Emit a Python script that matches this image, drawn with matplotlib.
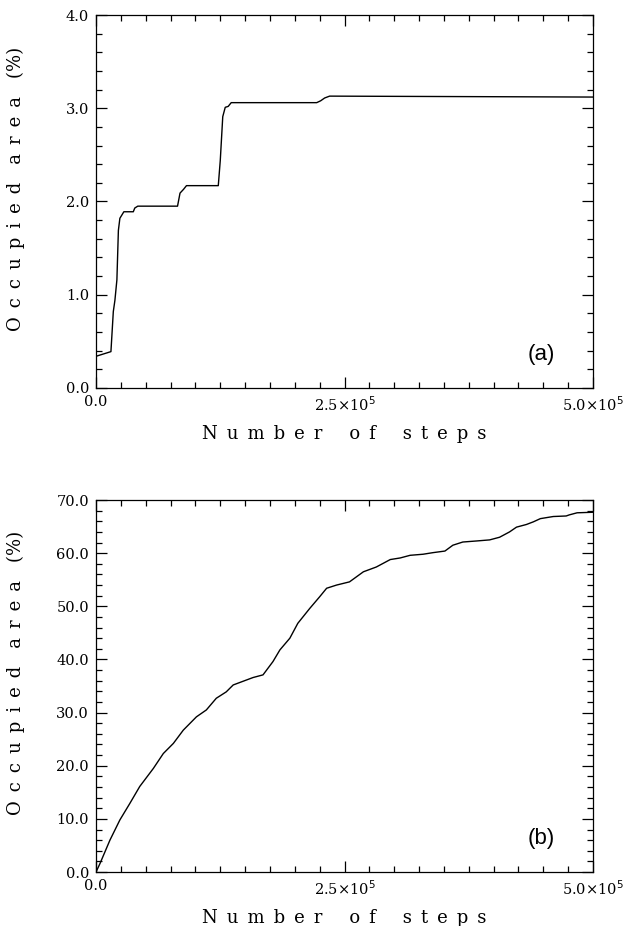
import matplotlib
matplotlib.use("Agg")
import matplotlib.pyplot as plt
from matplotlib.ticker import MultipleLocator, FixedLocator, FuncFormatter

# Panel (a): occupied area over the whole run, step-like growth
steps_a = [0, 15e3, 17.4e3, 19e3, 21e3, 22.5e3, 24e3, 28e3, 37.5e3, 39e3, 42e3,
           82e3, 84.5e3, 88e3, 91e3, 123e3, 125e3, 127.5e3, 130e3, 133e3, 136e3,
           222e3, 226e3, 230e3, 235e3, 500e3]
area_a = [0.34, 0.39, 0.82, 0.94, 1.16, 1.69, 1.82, 1.89, 1.89, 1.93, 1.95,
          1.95, 2.09, 2.13, 2.17, 2.17, 2.44, 2.91, 3.01, 3.02, 3.06,
          3.06, 3.08, 3.11, 3.13, 3.12]

# Panel (b): occupied area, smooth growth
steps_b = [0, 4e3, 14e3, 24e3, 34e3, 44e3, 57.7e3, 67.7e3, 77.8e3, 87.8e3, 101e3,
           111e3, 121e3, 131e3, 138e3, 148e3, 158e3, 168e3, 178e3, 185e3, 195e3,
           203e3, 215e3, 225e3, 232e3, 242e3, 255e3, 269e3, 282e3, 296e3, 306e3,
           316e3, 329e3, 339e3, 351e3, 359e3, 369e3, 383e3, 396e3, 406e3, 416e3,
           423e3, 433e3, 440e3, 447e3, 460e3, 473e3, 476e3, 484e3, 500e3]
area_b = [0.0, 1.6, 6.0, 9.8, 12.9, 16.1, 19.5, 22.3, 24.2, 26.7, 29.2,
          30.5, 32.7, 33.9, 35.2, 35.9, 36.6, 37.1, 39.6, 41.8, 44.0,
          46.8, 49.6, 51.8, 53.4, 54.0, 54.6, 56.5, 57.4, 58.8, 59.1,
          59.6, 59.8, 60.1, 60.4, 61.5, 62.1, 62.3, 62.5, 63.0, 64.0,
          64.9, 65.4, 65.9, 66.5, 66.9, 67.0, 67.2, 67.6, 67.7]

x_major = [0, 2.5e5, 5e5]
x_labels = {0: "0.0", 2.5e5: "2.5\u00d710$^5$", 5e5: "5.0\u00d710$^5$"}

label_font = "DejaVu Serif"
EN = "\u2002"


def spaced(words, word_gap=EN * 3):
    # wide letter spacing for the axis titles
    return word_gap.join(EN.join(w) for w in words)


xlabel_text = spaced(["Number", "of", "steps"])
ylabel_text = spaced(["Occupied", "area"], EN * 2) + EN * 2 + "(%)"

fig = plt.figure(figsize=(6.28, 9.26), dpi=100)
ax_a = fig.add_axes([0.1529, 0.581, 0.7914, 0.4028])
ax_b = fig.add_axes([0.1529, 0.0583, 0.7914, 0.4017])


def style_axes(ax, ymax, ymajor, yminor, tag):
    ax.set_xlim(0, 5e5)
    ax.set_ylim(0, ymax)
    ax.xaxis.set_major_locator(FixedLocator(x_major))
    ax.xaxis.set_minor_locator(MultipleLocator(2.5e4))
    ax.xaxis.set_major_formatter(FuncFormatter(lambda v, p: x_labels.get(v, "")))
    ax.yaxis.set_major_locator(MultipleLocator(ymajor))
    ax.yaxis.set_minor_locator(MultipleLocator(yminor))
    ax.yaxis.set_major_formatter(FuncFormatter(lambda v, p: f"{v:.1f}"))
    ax.tick_params(which="both", direction="in", top=True, right=True,
                   width=0.9, color="black")
    ax.tick_params(which="major", length=8, labelsize=10.5, pad=5)
    ax.tick_params(which="minor", length=4)
    for lab in ax.get_xticklabels() + ax.get_yticklabels():
        lab.set_fontfamily(label_font)
    for sp in ax.spines.values():
        sp.set_linewidth(0.9)
    ax.set_xlabel(xlabel_text, fontsize=13, family=label_font, labelpad=8)
    ax.set_ylabel(ylabel_text, fontsize=13, family=label_font)
    ax.yaxis.set_label_coords(-0.143, 0.535)
    ax.text(0.895, 0.09, tag, transform=ax.transAxes, fontsize=16,
            family="Liberation Sans", ha="center", va="center")


ax_a.plot(steps_a, area_a, color="black", lw=1.0)
style_axes(ax_a, 4.0, 1.0, 0.2, "(a)")

ax_b.plot(steps_b, area_b, color="black", lw=1.0)
style_axes(ax_b, 70.0, 10.0, 2.0, "(b)")

fig.savefig("out.png", dpi=100)
